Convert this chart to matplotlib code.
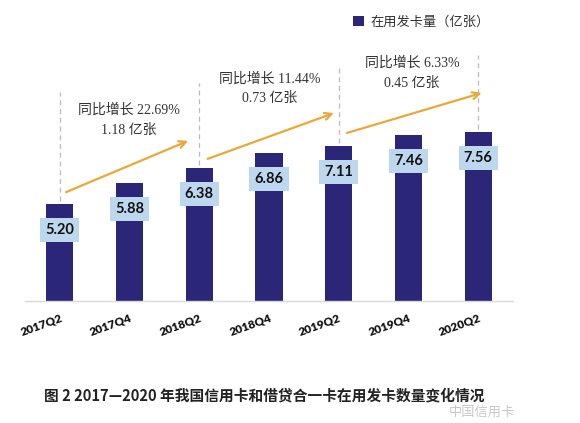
import matplotlib.pyplot as plt

plt.rcParams['font.family'] = ['Noto Sans CJK SC', 'DejaVu Sans']

quarters = ['2017Q2', '2017Q4', '2018Q2', '2018Q4', '2019Q2', '2019Q4', '2020Q2']
cards = [5.20, 5.88, 6.38, 6.86, 7.11, 7.46, 7.56]
growth_pct = ['22.69%', '11.44%', '6.33%']
growth_abs = ['1.18', '0.73', '0.45']
legend_label = '在用发卡量（亿张）'
caption = '图 2 2017—2020 年我国信用卡和借贷合一卡在用发卡数量变化情况'
watermark = '中国信用卡'

bar_color = '#2B2678'
box_color = '#BDD7EE'
arrow_color = '#E8A83A'

# layout of the year-on-year annotations (data coordinates)
guide_x = [0, 2, 4, 6]
guide_top = [8.87, 9.17, 9.69, 10.09]
arrows = [((0.09, 5.59), (1.84, 7.27)),
          ((2.12, 6.68), (3.93, 8.18)),
          ((4.12, 7.53), (6.05, 8.84))]
note_pos = [(0.99, 8.28, 7.63), (3.01, 9.30, 8.68), (5.05, 9.82, 9.17)]

fig = plt.figure(figsize=(5.8, 4.23), dpi=100)
ax = fig.add_axes([25 / 580, 1 - 301 / 423, 488 / 580, 291 / 423])

x = range(len(quarters))
bars = ax.bar(x, cards, width=0.39, color=bar_color, label=legend_label, zorder=2)
ax.set_xlim(-0.5, 6.5)
ax.set_ylim(2.02, 11.56)

for i, v in enumerate(cards):
    ax.text(i, v - 0.85, f'{v:.2f}', ha='center', va='center', fontsize=10.5,
            fontweight='bold', family=['Lato', 'DejaVu Sans'], color='#111111', zorder=4,
            bbox=dict(boxstyle='square,pad=0.35', fc=box_color, ec='none'))

for gx, gt in zip(guide_x, guide_top):
    ax.vlines(gx, cards[gx] + 0.1, gt, colors='#BBBBBB', linestyles=(0, (4, 3)),
              linewidth=0.9, zorder=1)

for (s, e) in arrows:
    ax.annotate('', xy=e, xytext=s,
                arrowprops=dict(arrowstyle='->,head_length=0.5,head_width=0.25',
                                color=arrow_color, lw=1.6, shrinkA=0, shrinkB=0))

for (nx, y1, y2), p, a in zip(note_pos, growth_pct, growth_abs):
    ax.text(nx, y1, f'同比增长 {p}', ha='center', va='center', fontsize=10,
            family=['Liberation Serif', 'Noto Sans CJK SC'], color='#333333')
    ax.text(nx, y2, f'{a} 亿张', ha='center', va='center', fontsize=10,
            family=['Liberation Serif', 'Noto Sans CJK SC'], color='#333333')

ax.set_xticks(list(x))
ax.set_xticklabels(quarters, rotation=20, ha='right', rotation_mode='anchor',
                   fontsize=8.5, fontweight='heavy', family=['Lato', 'DejaVu Sans'],
                   color='#111111')
ax.tick_params(axis='x', length=0, pad=8)
ax.set_yticks([])
for side in ['left', 'right', 'top']:
    ax.spines[side].set_visible(False)
ax.spines['bottom'].set_color('#D9D9D9')
ax.spines['bottom'].set_linewidth(1.0)

fig.legend(handles=[bars], labels=[legend_label], loc='center left',
           bbox_to_anchor=(353 / 580, 1 - 22 / 423), frameon=False, fontsize=9.5,
           borderpad=0, borderaxespad=0, handlelength=0.8, handleheight=0.8,
           handletextpad=0.5, labelcolor='#333333')

fig.text(264 / 580, 1 - 395 / 423, caption, ha='center', va='center', fontsize=10.6,
         fontweight='bold', color='#222222')
fig.text(515 / 580, 1 - 412 / 423, watermark, ha='right', va='center', fontsize=9.5,
         color='#C8C8C8')

fig.savefig('out.png', dpi=100)
